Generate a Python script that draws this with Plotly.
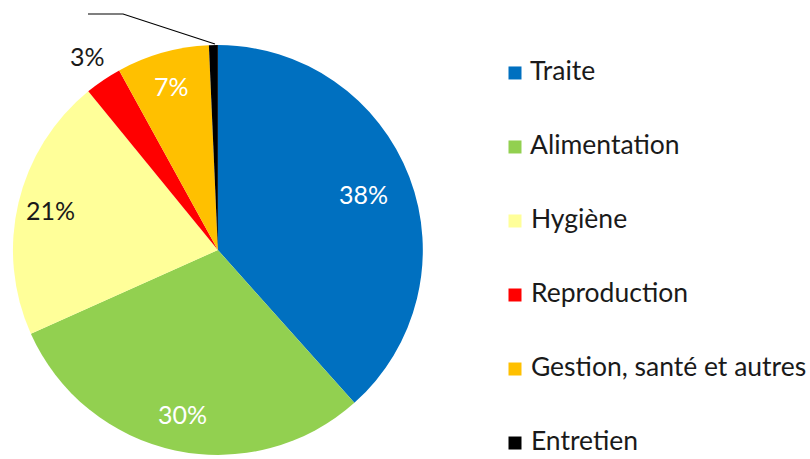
import math
import plotly.graph_objects as go

categories = ["Traite", "Alimentation", "Hygiène", "Reproduction", "Gestion, santé et autres", "Entretien"]
values = [38.4, 29.9, 20.8, 2.9, 7.3, 0.7]
colors = ["#0070C0", "#92D050", "#FFFF99", "#FF0000", "#FFC000", "#000000"]
pct_labels = ["38%", "30%", "21%", "3%", "7%", ""]
text_colors = ["white", "white", "#1a1a1a", "#1a1a1a", "white", "#1a1a1a"]
label_radius = [0.76, 0.82, 0.84, 1.14, 0.83, 1.0]   # label distance, fraction of radius

FONT = "Lato"
W, H = 810, 459
DOM_X = [0.016, 0.522]
DOM_Y = [0.0087, 0.902]

fig = go.Figure()
fig.add_trace(go.Pie(
    labels=categories,
    values=values,
    textinfo="none",
    marker=dict(colors=colors, line=dict(width=0)),
    sort=False,
    direction="clockwise",
    rotation=0,
    showlegend=False,
    domain=dict(x=DOM_X, y=DOM_Y),
    hoverinfo="label+percent",
))

# percentage labels placed along each slice's mid-angle (derived from the values)
r_px = min((DOM_X[1] - DOM_X[0]) * W, (DOM_Y[1] - DOM_Y[0]) * H) / 2
cx = (DOM_X[0] + DOM_X[1]) / 2
cy = (DOM_Y[0] + DOM_Y[1]) / 2
total = sum(values)
cum = 0.0
for val, txt, tc, k in zip(values, pct_labels, text_colors, label_radius):
    mid = (cum + val / 2) / total * 2 * math.pi
    cum += val
    if not txt:
        continue
    fig.add_annotation(
        x=cx + k * r_px * math.sin(mid) / W,
        y=cy + k * r_px * math.cos(mid) / H,
        xref="paper", yref="paper", xanchor="center", yanchor="middle",
        text=txt, showarrow=False,
        font=dict(family=FONT, size=25, color=tc),
    )

# legend drawn as a categorical scatter (square marker + label per category)
fig.add_trace(go.Scatter(
    x=[0] * len(categories), y=categories,
    mode="markers+text", text=[" " + c for c in categories], textposition="middle right",
    marker=dict(symbol="square", size=13, color=colors, line=dict(width=0)),
    textfont=dict(family=FONT, size=26.5, color="#1a1a1a"),
    cliponaxis=False, showlegend=False, hoverinfo="skip",
))

# leader line for the tiny "Entretien" slice
fig.add_shape(type="path", xref="paper", yref="paper",
              path="M 0.2654,0.9041 L 0.1519,0.9695 L 0.1086,0.9695",
              line=dict(color="black", width=1.2))

fig.update_layout(
    width=W, height=H,
    margin=dict(l=0, r=0, t=0, b=0, autoexpand=False),
    paper_bgcolor="white", plot_bgcolor="rgba(0,0,0,0)",
    xaxis=dict(visible=False, range=[-515, 295], fixedrange=True),
    yaxis=dict(visible=False, type="category", categoryorder="array",
               categoryarray=categories, range=[5.216, -0.986], fixedrange=True),
    showlegend=False,
)

fig.write_html("out.html", config={"displayModeBar": False},
               post_script="document.body.style.margin='0';document.body.style.overflow='hidden';")
